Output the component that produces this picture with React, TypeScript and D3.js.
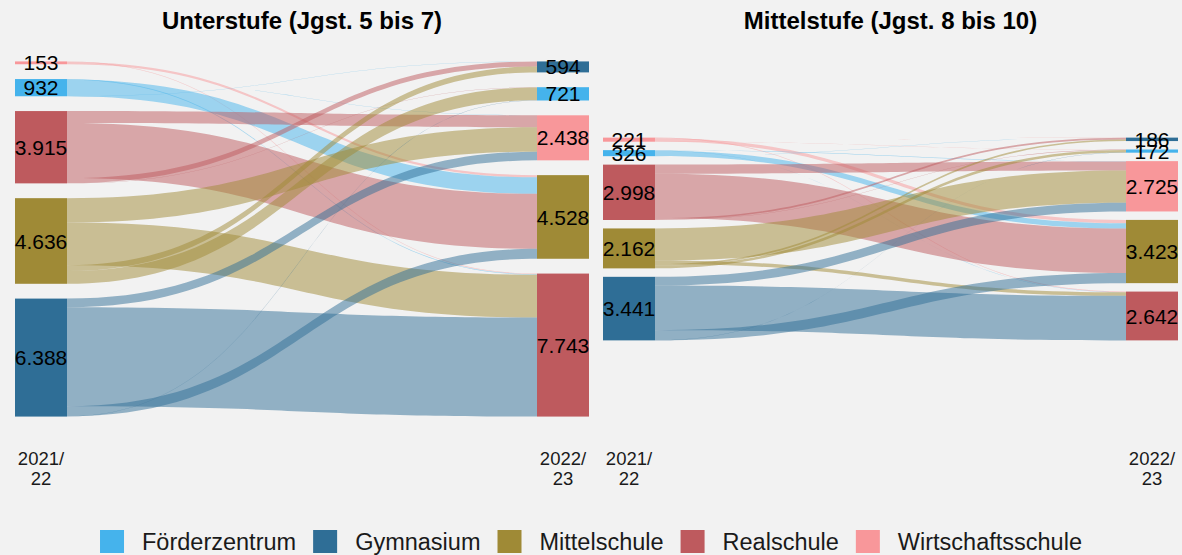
import React, { useEffect, useRef } from "react";
import * as d3 from "d3";

// ---------- data ----------
const schools = ["Förderzentrum", "Gymnasium", "Mittelschule", "Realschule", "Wirtschaftsschule"];
const schoolColors = ["#45B3EC", "#2F6E96", "#9F8A36", "#BE5A5E", "#F8979A"];

const panelTitles = ["Unterstufe (Jgst. 5 bis 7)", "Mittelstufe (Jgst. 8 bis 10)"];
const axisLabels = [["2021/", "22"], ["2022/", "23"]];

// stratum order (top to bottom) on each axis
const leftOrder = ["Wirtschaftsschule", "Förderzentrum", "Realschule", "Mittelschule", "Gymnasium"];
const rightOrder = ["Gymnasium", "Förderzentrum", "Wirtschaftsschule", "Mittelschule", "Realschule"];

// flows: [from 2021/22, to 2022/23, pupils]
const unterstufeFlows: [string, string, number][] = [
  ["Wirtschaftsschule", "Förderzentrum", 2],
  ["Wirtschaftsschule", "Mittelschule", 116],
  ["Wirtschaftsschule", "Realschule", 35],
  ["Förderzentrum", "Gymnasium", 4],
  ["Förderzentrum", "Wirtschaftsschule", 2],
  ["Förderzentrum", "Mittelschule", 896],
  ["Förderzentrum", "Realschule", 30],
  ["Realschule", "Gymnasium", 270],
  ["Realschule", "Förderzentrum", 15],
  ["Realschule", "Wirtschaftsschule", 650],
  ["Realschule", "Mittelschule", 2980],
  ["Mittelschule", "Gymnasium", 320],
  ["Mittelschule", "Förderzentrum", 686],
  ["Mittelschule", "Wirtschaftsschule", 1316],
  ["Mittelschule", "Realschule", 2314],
  ["Gymnasium", "Förderzentrum", 18],
  ["Gymnasium", "Wirtschaftsschule", 470],
  ["Gymnasium", "Mittelschule", 536],
  ["Gymnasium", "Realschule", 5364],
];

const mittelstufeFlows: [string, string, number][] = [
  ["Wirtschaftsschule", "Gymnasium", 5],
  ["Wirtschaftsschule", "Förderzentrum", 6],
  ["Wirtschaftsschule", "Mittelschule", 180],
  ["Wirtschaftsschule", "Realschule", 30],
  ["Förderzentrum", "Gymnasium", 6],
  ["Förderzentrum", "Wirtschaftsschule", 20],
  ["Förderzentrum", "Mittelschule", 290],
  ["Förderzentrum", "Realschule", 10],
  ["Realschule", "Gymnasium", 85],
  ["Realschule", "Förderzentrum", 18],
  ["Realschule", "Wirtschaftsschule", 490],
  ["Realschule", "Mittelschule", 2405],
  ["Mittelschule", "Gymnasium", 90],
  ["Mittelschule", "Förderzentrum", 142],
  ["Mittelschule", "Wirtschaftsschule", 1740],
  ["Mittelschule", "Realschule", 190],
  ["Gymnasium", "Förderzentrum", 6],
  ["Gymnasium", "Wirtschaftsschule", 475],
  ["Gymnasium", "Mittelschule", 548],
  ["Gymnasium", "Realschule", 2412],
];

const panelFlows = [unterstufeFlows, mittelstufeFlows];

// ---------- layout ----------
const W = 1182;
const H = 555;
const FONT = "'Liberation Sans', Arial, Helvetica, sans-serif";
const gapFraction = 0.05;
const nodeWidth = 52;
const flowOpacity = 0.5;
const panelX = [
  [41, 563],
  [629, 1152],
];

const de = d3.formatLocale({ decimal: ",", thousands: ".", grouping: [3], currency: ["", " €"] });
const fmt = de.format(",");

export default function App() {
  const ref = useRef<SVGSVGElement>(null);

  useEffect(() => {
    const svg = d3.select(ref.current);
    svg.selectAll("*").remove();

    svg.append("rect").attr("width", W).attr("height", H).attr("fill", "#F2F2F2");

    const color = d3.scaleOrdinal<string, string>().domain(schools).range(schoolColors);
    const y = d3.scaleLinear().domain([-10000, 10000]).range([239 - 184.7, 239 + 184.7]);

    panelFlows.forEach((flows, pi) => {
      const x = d3.scalePoint<number>().domain([0, 1]).range(panelX[pi] as [number, number]);
      const g = svg.append("g");

      const total = d3.sum(flows, (f) => f[2]);
      const gap = total * gapFraction;
      const extent = total + gap * 4;

      const buildNodes = (order: string[], side: 0 | 1) => {
        let cur = -extent / 2;
        return order.map((name) => {
          const v = d3.sum(flows.filter((f) => f[side] === name), (f) => f[2]);
          const n = { name, value: v, y0: cur, y1: cur + v };
          cur += v + gap;
          return n;
        });
      };
      const leftNodes = buildNodes(leftOrder, 0);
      const rightNodes = buildNodes(rightOrder, 1);

      const flowPos = flows.map((f) => ({ f, sy0: 0, sy1: 0, ty0: 0, ty1: 0 }));
      leftNodes.forEach((n) => {
        let c = n.y0;
        flowPos
          .filter((p) => p.f[0] === n.name)
          .sort((a, b) => d3.descending(a.f[1], b.f[1]))
          .forEach((p) => {
            p.sy0 = c;
            c += p.f[2];
            p.sy1 = c;
          });
      });
      rightNodes.forEach((n) => {
        let c = n.y0;
        flowPos
          .filter((p) => p.f[1] === n.name)
          .sort((a, b) => leftOrder.indexOf(a.f[0]) - leftOrder.indexOf(b.f[0]))
          .forEach((p) => {
            p.ty0 = c;
            c += p.f[2];
            p.ty1 = c;
          });
      });

      const xs = (x(0) as number) + nodeWidth / 2;
      const xt = (x(1) as number) - nodeWidth / 2;
      const xm = (xs + xt) / 2;

      g.append("g")
        .selectAll("path")
        .data(flowPos)
        .join("path")
        .attr("d", (p) => {
          const path = d3.path();
          path.moveTo(xs, y(p.sy0));
          path.bezierCurveTo(xm, y(p.sy0), xm, y(p.ty0), xt, y(p.ty0));
          path.lineTo(xt, y(p.ty1));
          path.bezierCurveTo(xm, y(p.ty1), xm, y(p.sy1), xs, y(p.sy1));
          path.closePath();
          return path.toString();
        })
        .attr("fill", (p) => color(p.f[0]))
        .attr("fill-opacity", flowOpacity);

      const drawNodes = (nodes: typeof leftNodes, axis: number) => {
        const ng = g.append("g");
        const cx = x(axis) as number;
        ng.selectAll("rect")
          .data(nodes)
          .join("rect")
          .attr("x", cx - nodeWidth / 2)
          .attr("width", nodeWidth)
          .attr("y", (n) => y(n.y0))
          .attr("height", (n) => y(n.y1) - y(n.y0))
          .attr("fill", (n) => color(n.name));
        ng.selectAll("text")
          .data(nodes)
          .join("text")
          .attr("x", cx)
          .attr("y", (n) => (y(n.y0) + y(n.y1)) / 2)
          .attr("dy", "0.36em")
          .attr("text-anchor", "middle")
          .attr("font-family", FONT)
          .attr("font-size", 21)
          .attr("fill", "#000")
          .text((n) => fmt(n.value));
      };
      drawNodes(leftNodes, 0);
      drawNodes(rightNodes, 1);

      [0, 1].forEach((a) => {
        const t = g
          .append("text")
          .attr("x", x(a) as number)
          .attr("y", 465)
          .attr("text-anchor", "middle")
          .attr("font-family", FONT)
          .attr("font-size", 18.5)
          .attr("fill", "#1a1a1a");
        axisLabels[a].forEach((line, li) => {
          t.append("tspan")
            .attr("x", x(a) as number)
            .attr("dy", li === 0 ? 0 : 20)
            .text(line);
        });
      });

      g.append("text")
        .attr("x", ((x(0) as number) + (x(1) as number)) / 2)
        .attr("y", 29)
        .attr("text-anchor", "middle")
        .attr("font-family", FONT)
        .attr("font-weight", "bold")
        .attr("font-size", 24)
        .attr("fill", "#000")
        .text(panelTitles[pi]);
    });

    // legend
    const lg = svg.append("g");
    const items = schools.map((s) => {
      const ig = lg.append("g");
      ig.append("rect").attr("width", 24).attr("height", 23).attr("y", 530).attr("fill", color(s));
      const t = ig
        .append("text")
        .attr("x", 42)
        .attr("y", 549.5)
        .attr("font-family", FONT)
        .attr("font-size", 23.5)
        .attr("fill", "#1a1a1a")
        .text(s);
      const w = (t.node() as SVGTextElement).getComputedTextLength();
      return { ig, w: 42 + w };
    });
    const spacing = 17;
    const totalW = d3.sum(items, (i) => i.w) + spacing * (items.length - 1);
    let cx = 591 - totalW / 2;
    items.forEach((i) => {
      i.ig.attr("transform", `translate(${cx},0)`);
      cx += i.w + spacing;
    });
  }, []);

  return (
    <svg
      ref={ref}
      width={W}
      height={H}
      style={{ position: "absolute", left: 0, top: 0, display: "block" }}
    />
  );
}
